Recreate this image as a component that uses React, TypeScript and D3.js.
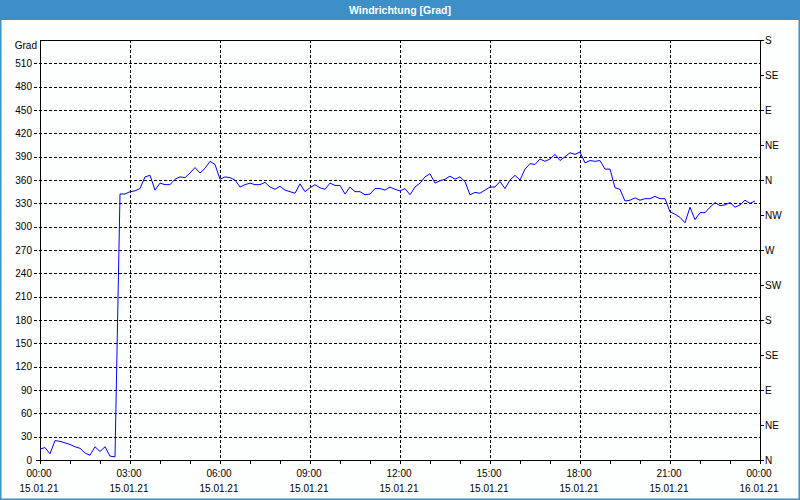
import React from "react";
import * as d3 from "d3";

const TITLE = "Windrichtung [Grad]";
const Y_UNIT = "Grad";
const START = new Date(2021, 0, 15, 0, 0);
const END = new Date(2021, 0, 16, 0, 0);
const STEP_MIN = 10;

const direction: number[] = [
  14, 16, 8, 25, 24, 22, 20, 17, 15, 9, 6, 17, 11, 17, 5, 4,
  342, 342, 345, 346, 349, 364, 366, 347, 356, 354, 354, 361, 364, 363, 369, 376,
  369, 375, 384, 380, 361, 364, 363, 360, 351, 354, 356, 354, 354, 357, 351, 348,
  352, 347, 345, 343, 355, 345, 350, 354, 350, 348, 356, 353, 353, 342, 351, 345,
  345, 341, 342, 349, 349, 347, 351, 348, 346, 349, 341, 351, 356, 364, 368, 356,
  359, 361, 365, 361, 364, 358, 341, 344, 343, 347, 351, 351, 358, 349, 360, 366,
  360, 374, 381, 380, 387, 384, 387, 393, 385, 390, 395, 393, 396, 382, 385, 384,
  385, 374, 374, 350, 348, 333, 334, 337, 334, 336, 336, 339, 336, 336, 319, 316,
  312, 305, 325, 309, 318, 318, 325, 331, 327, 328, 331, 325, 328, 334, 330, 333,
];

const yTicks: number[] = [0, 30, 60, 90, 120, 150, 180, 210, 240, 270, 300, 330, 360, 390, 420, 450, 480, 510];
const compassValues: number[] = [0, 45, 90, 135, 180, 225, 270, 315, 360, 405, 450, 495, 540];
const compassLabels: string[] = ["N", "NE", "E", "SE", "S", "SW", "W", "NW", "N", "NE", "E", "SE", "S"];
const majorHours: number[] = [0, 3, 6, 9, 12, 15, 18, 21, 24];

const W = 800;
const H = 500;
const M = { left: 40, right: 760, top: 40, bottom: 460 };
const FONT = "'Liberation Sans', Arial, sans-serif";

export default function App() {
  const x = d3.scaleTime().domain([START, END]).range([M.left, M.right]);
  const y = d3.scaleLinear().domain([0, 540]).range([M.bottom, M.top]);

  const points = direction.map((v, i) => ({
    t: d3.timeMinute.offset(START, i * STEP_MIN),
    v,
  }));
  const line = d3
    .line<{ t: Date; v: number }>()
    .x((d) => x(d.t))
    .y((d) => y(d.v));

  const hourTicks = d3.timeHour.range(START, d3.timeHour.offset(END, 1));
  const majorTimes = majorHours.map((h) => d3.timeHour.offset(START, h));
  const fmtTime = d3.timeFormat("%H:%M");
  const fmtDate = d3.timeFormat("%d.%m.%y");
  const px = (v: number) => Math.round(v) + 0.5;

  return (
    <>
      <style>{"body{margin:0;}"}</style>
      <svg width={W} height={H} style={{ display: "block" }} fontFamily={FONT}>
        <rect x={0} y={0} width={W} height={H} fill="#fdfefe" />
        {/* title bar */}
        <rect x={0} y={0} width={W} height={20} fill="#3c8fc7" />
        <text x={400} y={14} textAnchor="middle" fill="#ffffff" fontSize={10.5} fontWeight="bold">
          {TITLE}
        </text>
        {/* outer border */}
        <rect x={0.75} y={0.75} width={W - 1.5} height={H - 1.5} fill="none" stroke="#3c8fc7" strokeWidth={1.5} />

        {/* horizontal grid */}
        {yTicks.filter((t) => t > 0).map((t) => (
          <line
            key={"gy" + t}
            x1={M.left - 6}
            x2={M.right}
            y1={px(y(t))}
            y2={px(y(t))}
            stroke="#000"
            strokeDasharray="3,2"
            shapeRendering="crispEdges"
          />
        ))}
        {/* vertical grid */}
        {majorTimes.slice(1, -1).map((t) => (
          <line
            key={"gx" + t.getTime()}
            x1={px(x(t))}
            x2={px(x(t))}
            y1={M.top}
            y2={M.bottom}
            stroke="#000"
            strokeDasharray="3,2"
            shapeRendering="crispEdges"
          />
        ))}

        {/* frame */}
        <rect
          x={px(M.left)}
          y={px(M.top)}
          width={M.right - M.left}
          height={M.bottom - M.top}
          fill="none"
          stroke="#000"
          shapeRendering="crispEdges"
        />
        <line x1={M.left - 4} x2={M.left} y1={px(y(0))} y2={px(y(0))} stroke="#000" shapeRendering="crispEdges" />

        {/* hour ticks */}
        {hourTicks.map((t) => (
          <line
            key={"ht" + t.getTime()}
            x1={px(x(t))}
            x2={px(x(t))}
            y1={M.bottom}
            y2={M.bottom + 4}
            stroke="#000"
            shapeRendering="crispEdges"
          />
        ))}

        {/* left labels */}
        {yTicks.map((t) => (
          <text key={"ly" + t} x={32} y={y(t)} dy="0.35em" textAnchor="end" fontSize={10} fill="#000">
            {t}
          </text>
        ))}
        <text x={37} y={45} dy="0.35em" textAnchor="end" fontSize={10} fill="#000">
          {Y_UNIT}
        </text>

        {/* right compass axis */}
        {compassValues.map((v, i) => (
          <g key={"c" + i}>
            <line x1={M.right} x2={M.right + 4} y1={px(y(v))} y2={px(y(v))} stroke="#000" shapeRendering="crispEdges" />
            <text x={M.right + 5} y={y(v)} dy="0.35em" fontSize={10} fill="#000">
              {compassLabels[i]}
            </text>
          </g>
        ))}

        {/* bottom labels */}
        {majorTimes.map((t) => (
          <g key={"bl" + t.getTime()}>
            <text x={x(t) - 1} y={473} dy="0.35em" textAnchor="middle" fontSize={10} fill="#000">
              {fmtTime(t)}
            </text>
            <text x={x(t) - 1} y={488} dy="0.35em" textAnchor="middle" fontSize={10} fill="#000">
              {fmtDate(t)}
            </text>
          </g>
        ))}

        {/* data line */}
        <path d={line(points) || ""} fill="none" stroke="#0000ff" strokeWidth={1} />
      </svg>
    </>
  );
}
